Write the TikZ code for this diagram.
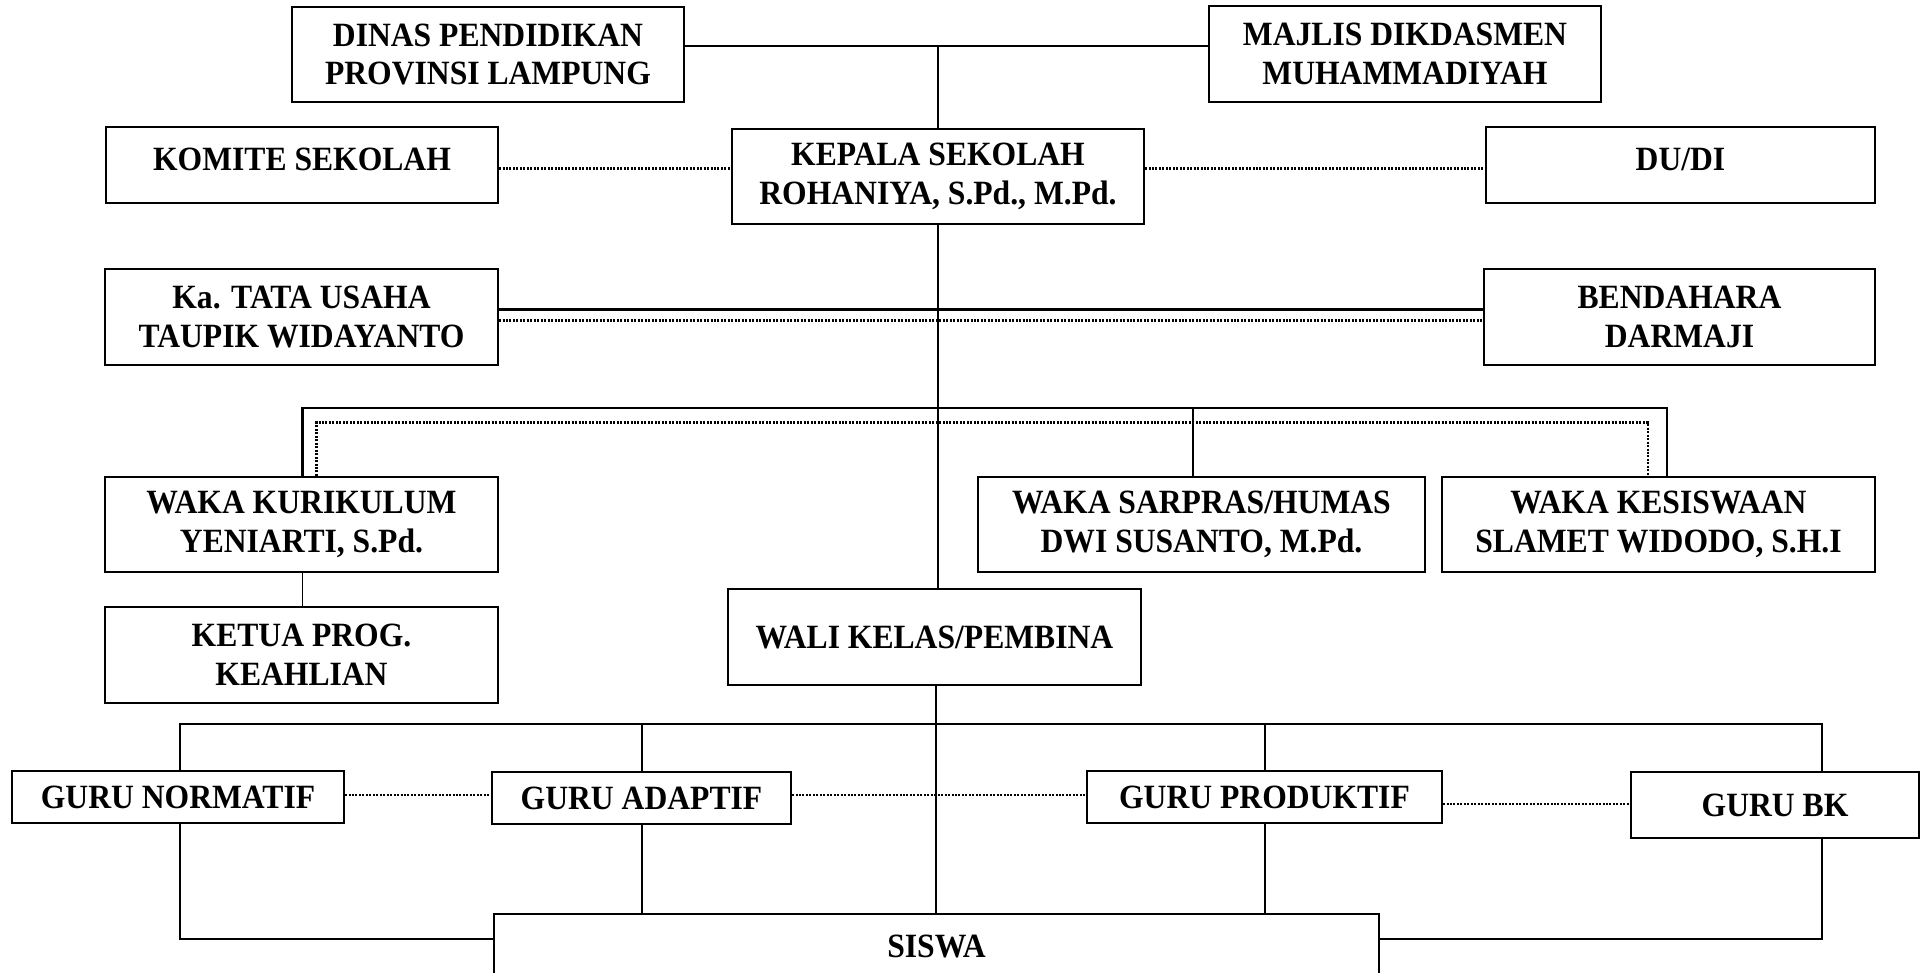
\documentclass[tikz,border=0pt]{standalone}
\usepackage{fontspec}
\newfontfamily\tnr{Liberation Serif}[FakeStretch=0.93]
\newcommand\orgbox[7][]{\node[box,minimum width={(#5-#3)*0.75pt},minimum height={(#6-#4)*0.75pt},#1] (#2) at ({(#3+#5)/2},{(#4+#6)/2}) {#7};}
\begin{document}
\begin{tikzpicture}[x=0.75pt,y=-0.75pt,
  box/.style={draw, line width=1.6pt, inner sep=0pt, align=center, font=\tnr\bfseries\fontsize{25.5pt}{29pt}\selectfont},
  conn/.style={line width=1.6pt},
  thinl/.style={line width=1.1pt},
  dotl/.style={line width=1.8pt, dash pattern=on 1.5pt off 1.1pt}]
\useasboundingbox (0,0) rectangle (1925,972);
\clip (0,0) rectangle (1925,972);
% boxes
\orgbox{dinas}{292}{7}{684}{102}{DINAS PENDIDIKAN\\PROVINSI LAMPUNG}
\orgbox{majlis}{1209}{6}{1601}{102}{MAJLIS DIKDASMEN\\MUHAMMADIYAH}
\orgbox[text depth=8pt]{komite}{106}{127}{498}{203}{KOMITE SEKOLAH}
\orgbox{kepala}{732}{129}{1144}{224}{KEPALA SEKOLAH\\ROHANIYA, S.Pd., M.Pd.}
\orgbox[text depth=8pt]{dudi}{1486}{127}{1875}{203}{DU/DI}
\orgbox{tu}{105}{269}{498}{365}{Ka. TATA USAHA\\TAUPIK WIDAYANTO}
\orgbox{bendahara}{1484}{269}{1875}{365}{BENDAHARA\\DARMAJI}
\orgbox{kurikulum}{105}{477}{498}{572}{WAKA KURIKULUM\\YENIARTI, S.Pd.}
\orgbox{sarpras}{978}{477}{1425}{572}{WAKA SARPRAS/HUMAS\\DWI SUSANTO, M.Pd.}
\orgbox{kesiswaan}{1442}{477}{1875}{572}{WAKA KESISWAAN\\SLAMET WIDODO, S.H.I}
\orgbox{ketua}{105}{607}{498}{703}{KETUA PROG.\\KEAHLIAN}
\orgbox{wali}{728}{589}{1141}{685}{WALI KELAS/PEMBINA}
\orgbox{normatif}{12}{771}{344}{823}{GURU NORMATIF}
\orgbox{adaptif}{492}{772}{791}{824}{GURU ADAPTIF}
\orgbox{produktif}{1087}{771}{1442}{823}{GURU PRODUKTIF}
\orgbox{bk}{1631}{772}{1919}{838}{GURU BK}
\orgbox{siswa}{494}{914}{1379}{978}{SISWA}
% helper coordinates
\coordinate (r1) at (938,46);
\coordinate (r2) at (0,168.5);
\coordinate (r3a) at (0,309.5);
\coordinate (r3b) at (0,320.5);
\coordinate (b4l) at (302.5,408);
\coordinate (b4r) at (1667,408);
\coordinate (b4s) at (1193,408);
\coordinate (d4l) at (316.5,422.5);
\coordinate (d4r) at (1648,422.5);
\coordinate (b6l) at (180,724);
\coordinate (b6r) at (1822,724);
\coordinate (b6a) at (642,724);
\coordinate (b6p) at (1265,724);
\coordinate (c6) at (936,724);
\coordinate (d6a) at (0,795);
\coordinate (d6b) at (0,804);
\coordinate (s7) at (0,939);
% connectors top
\draw[conn] (dinas.east |- r1) -- (majlis.west |- r1);
\draw[thinl] (r1) -- (kepala.north -| r1);
\draw[dotl] (komite.east |- r2) -- (kepala.west |- r2);
\draw[dotl] (kepala.east |- r2) -- (dudi.west |- r2);
\draw[conn] (tu.east |- r3a) -- (bendahara.west |- r3a);
\draw[dotl] (tu.east |- r3b) -- (bendahara.west |- r3b);
\draw[thinl] (kepala.south -| r1) -- (wali.north -| r1);
% waka bus
\draw[conn] (kurikulum.north -| b4l) -- (b4l) -- (b4r) -- (kesiswaan.north -| b4r);
\draw[thinl] (b4s) -- (sarpras.north -| b4s);
\draw[dotl] (kurikulum.north -| d4l) -- (d4l) -- (d4r) -- (kesiswaan.north -| d4r);
\draw[thinl] (kurikulum.south -| b4l) -- (ketua.north -| b4l);
% guru bus
\draw[conn] (normatif.north -| b6l) -- (b6l) -- (b6r) -- (bk.north -| b6r);
\draw[thinl] (wali.south -| c6) -- (siswa.north -| c6);
\draw[thinl] (b6a) -- (adaptif.north -| b6a);
\draw[thinl] (b6p) -- (produktif.north -| b6p);
\draw[thinl] (adaptif.south -| b6a) -- (siswa.north -| b6a);
\draw[thinl] (produktif.south -| b6p) -- (siswa.north -| b6p);
\draw[conn] (normatif.south -| b6l) -- (b6l |- s7) -- (siswa.west |- s7);
\draw[conn] (bk.south -| b6r) -- (b6r |- s7) -- (siswa.east |- s7);
\draw[dotl] (normatif.east |- d6a) -- (adaptif.west |- d6a);
\draw[dotl] (adaptif.east |- d6a) -- (produktif.west |- d6a);
\draw[dotl] (produktif.east |- d6b) -- (bk.west |- d6b);
\end{tikzpicture}
\end{document}
